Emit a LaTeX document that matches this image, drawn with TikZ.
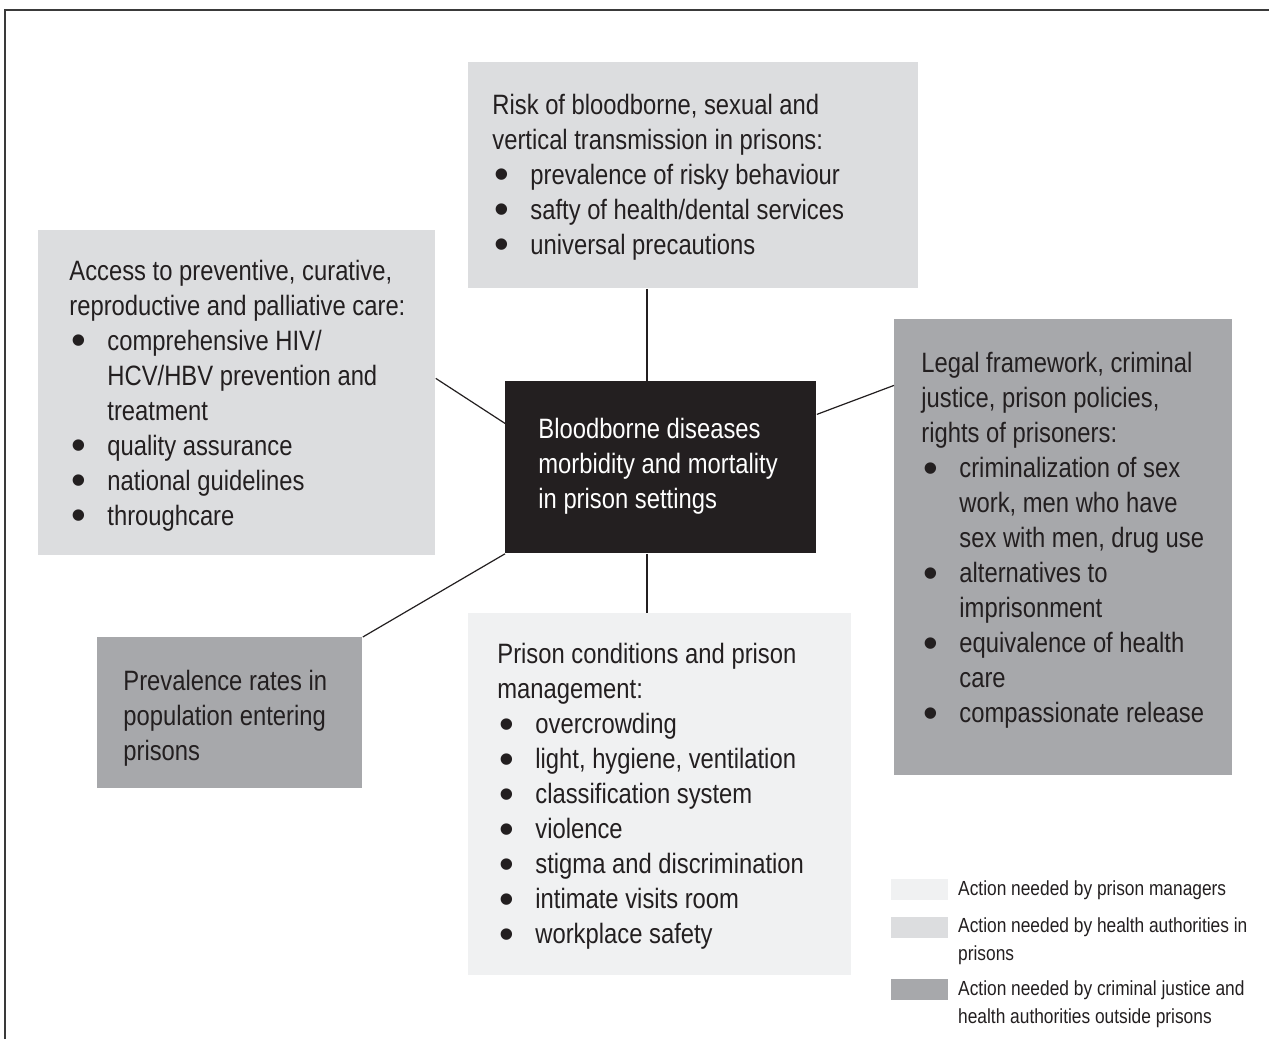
\documentclass[tikz,border=0pt]{standalone}
\usepackage{fontspec}
\setmainfont[FakeStretch=0.85]{Liberation Sans}
\newfontfamily\bulfont{Liberation Sans}
\usetikzlibrary{calc}
\definecolor{txt}{HTML}{231F20}
\definecolor{lightg}{HTML}{F0F1F2}
\definecolor{midg}{HTML}{DCDDDF}
\definecolor{darkg}{HTML}{A7A8AB}
\definecolor{framec}{HTML}{3A3A3A}
\newcommand{\bulmark}{\smash{\raisebox{-2.2pt}{\bulfont\fontsize{21}{21}\selectfont\textbullet}}}
\newcommand{\bitem}[1]{\hspace*{1pt}\makebox[18pt][l]{\bulmark}#1}
\newcommand{\citem}[1]{\hspace*{19pt}#1}
\begin{document}
\begin{tikzpicture}[x=0.5pt,y=-0.5pt,
  boxshape/.style={anchor=north west, inner sep=0pt, draw=none},
  boxtext/.style={anchor=west, align=left, inner sep=0pt, text=txt, font=\fontsize{14}{17.5}\selectfont},
  conn/.style={draw=txt, line width=0.6pt},
  swatch/.style={anchor=north west, minimum width=28.5pt, minimum height=10.5pt, inner sep=0pt},
  legtext/.style={anchor=west, align=left, inner sep=0pt, text=txt, font=\fontsize{10.2}{14}\selectfont}]

\useasboundingbox (0,0) rectangle (1269,1039);
\fill[white] (0,0) rectangle (1269,1039);
\draw[framec, line width=1pt] (5,1039) -- (5,10) -- (1269,10);

% boxes
\node[boxshape, fill=midg, minimum width=225pt, minimum height=113pt] (risk) at (468,62) {};
\node[boxshape, fill=midg, minimum width=198.5pt, minimum height=162.5pt] (access) at (38,230) {};
\node[boxshape, fill=darkg, minimum width=169pt, minimum height=228pt] (legal) at (894,319) {};
\node[boxshape, fill=darkg, minimum width=132.5pt, minimum height=75.5pt] (prev) at (97,637) {};
\node[boxshape, fill=lightg, minimum width=191.5pt, minimum height=181pt] (cond) at (468,613) {};
\node[boxshape, fill=txt, minimum width=155.5pt, minimum height=86pt] (center) at (505,381) {};

% texts
\node[boxtext] (riskt) at ($(risk.west)+(24,1.5)$) {Risk of bloodborne, sexual and\\vertical transmission in prisons:\\
\bitem{prevalence of risky behaviour}\\\bitem{safty of health/dental services}\\\bitem{universal precautions}};

\node[boxtext] (accesst) at ($(access.west)+(31,2.5)$) {Access to preventive, curative,\\reproductive and palliative care:\\
\bitem{comprehensive HIV/}\\\citem{HCV/HBV prevention and}\\\citem{treatment}\\
\bitem{quality assurance}\\\bitem{national guidelines}\\\bitem{throughcare}};

\node[boxtext] (legalt) at ($(legal.west)+(27,-7)$) {Legal framework, criminal\\justice, prison policies,\\rights of prisoners:\\
\bitem{criminalization of sex}\\\citem{work, men who have}\\\citem{sex with men, drug use}\\
\bitem{alternatives to}\\\citem{imprisonment}\\
\bitem{equivalence of health}\\\citem{care}\\
\bitem{compassionate release}};

\node[boxtext] (prevt) at ($(prev.west)+(26,5)$) {Prevalence rates in\\population entering\\prisons};

\node[boxtext] (condt) at ($(cond.west)+(29,2)$) {Prison conditions and prison\\management:\\
\bitem{overcrowding}\\\bitem{light, hygiene, ventilation}\\\bitem{classification system}\\
\bitem{violence}\\\bitem{stigma and discrimination}\\\bitem{intimate visits room}\\\bitem{workplace safety}};

\node[boxtext, text=white] (centert) at ($(center.west)+(33,-1)$) {Bloodborne diseases\\morbidity and mortality\\in prison settings};

% connectors
\coordinate (vx) at (647,0);
\draw[conn] (risk.south -| vx) -- (center.north -| vx);
\draw[conn] (center.south -| vx) -- (cond.north -| vx);
\draw[conn] ($(access.east)+(0,-14.5)$) -- ($(center.west)+(0,-44)$);
\draw[conn] ($(center.east)+(0,-53)$) -- ($(legal.west)+(0,-162)$);
\draw[conn] (center.south west) -- (prev.north east);

% legend
\node[swatch, fill=lightg] (sw1) at (891,879) {};
\node[swatch, fill=midg] (sw2) at (891,917) {};
\node[swatch, fill=darkg] (sw3) at (891,979) {};
\node[legtext] (lg1) at ($(sw1.east)+(9,0.5)$) {Action needed by prison managers};
\node[legtext] (lg2) at ($(sw2.east)+(9,13.5)$) {Action needed by health authorities in\\prisons};
\node[legtext] (lg3) at ($(sw3.east)+(9,14.5)$) {Action needed by criminal justice and\\health authorities outside prisons};
\end{tikzpicture}
\end{document}
